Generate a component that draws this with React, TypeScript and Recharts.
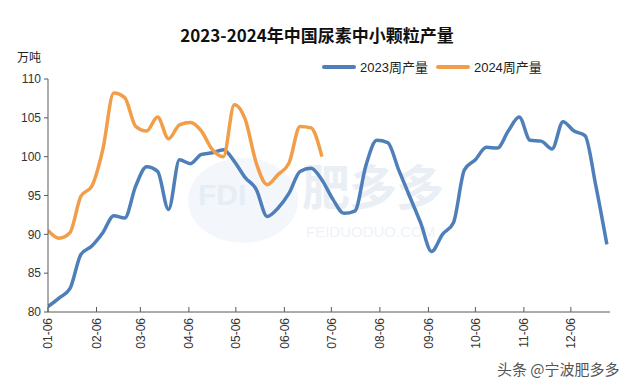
import { Line, LineChart, XAxis, YAxis } from 'recharts';

// 2023 周五日期（周度数据）
const WEEKS = [
  '01-06', '01-13', '01-20', '01-27', '02-03', '02-10', '02-17', '02-24',
  '03-03', '03-10', '03-17', '03-24', '03-31', '04-07', '04-14', '04-21',
  '04-28', '05-05', '05-12', '05-19', '05-26', '06-02', '06-09', '06-16',
  '06-23', '06-30', '07-07', '07-14', '07-21', '07-28', '08-04', '08-11',
  '08-18', '08-25', '09-01', '09-08', '09-15', '09-22', '09-29', '10-06',
  '10-13', '10-20', '10-27', '11-03', '11-10', '11-17', '11-24', '12-01',
  '12-08', '12-15', '12-22', '12-29',
];

const OUTPUT_2023 = [
  80.7, 81.8, 83.0, 87.4, 88.5, 90.2, 92.4, 92.1, 96.2, 98.7, 98.1, 93.2,
  99.6, 99.1, 100.3, 100.5, 100.9, 99.4, 97.3, 95.8, 92.3, 93.4, 95.3, 98.1,
  98.5, 97.0, 94.5, 92.7, 93.0, 98.8, 102.1, 101.8, 98.3, 94.9, 91.5, 87.8,
  90.0, 91.5, 98.3, 99.6, 101.2, 101.1, 103.3, 105.1, 102.1, 102.0, 101.0, 104.5,
  103.3, 102.7, 96.2, 88.7,
];

const OUTPUT_2024 = [
  90.5, 89.5, 90.2, 94.9, 96.2, 100.9, 108.2, 107.6, 103.9, 103.3, 105.1, 102.3,
  104.1, 104.4, 103.3, 100.9, 100.0, 106.7, 104.8, 99.2, 96.4, 97.7, 99.2, 103.9,
  103.7, 100.0,
];

const TICK_LABELS = [
  '01-06', '02-06', '03-06', '04-06', '05-06', '06-06',
  '07-06', '08-06', '09-06', '10-06', '11-06', '12-06',
];

const Y_TICKS = [80, 85, 90, 95, 100, 105, 110];

const MONTH_START = [0, 31, 59, 90, 120, 151, 181, 212, 243, 273, 304, 334];
const toDay = (md: string) => {
  const [m, d] = md.split('-').map(Number);
  return MONTH_START[m - 1] + d - 1;
};

const data = WEEKS.map((w, i) => ({
  day: toDay(w),
  y2023: OUTPUT_2023[i],
  y2024: OUTPUT_2024[i],
}));

const BLUE = '#4e7fb9';
const ORANGE = '#f29d48';
const FONT = 'Arial, "Liberation Sans", "Noto Sans CJK SC", sans-serif';
const CJK = '"Noto Sans CJK SC", sans-serif';

const XTick = (props: any) => {
  const { x, y, payload } = props;
  const label = TICK_LABELS.find((t) => toDay(t) === payload.value) ?? '';
  return (
    <g>
      <line x1={x} y1={y} x2={x} y2={y - 5} stroke='#595959' strokeWidth={1} />
      <g transform={`translate(${x},${y + 6}) rotate(-90)`}>
        <text textAnchor='end' dy='0.36em' fontSize={12} fill='#333' fontFamily={FONT}>
          {label}
        </text>
      </g>
    </g>
  );
};

export default function App() {
  return (
    <div style={{ position: 'fixed', left: 0, top: 0, width: 640, height: 392, background: '#fff', overflow: 'hidden' }}>
      {/* 水印 */}
      <div style={{ position: 'absolute', left: 188, top: 158, width: 110, height: 85, borderRadius: '50%', background: '#f3f7fb' }} />
      <div style={{ position: 'absolute', left: 198, top: 180, lineHeight: 1, fontFamily: FONT, fontWeight: 700, fontSize: 30, color: '#e6edf4' }}>FDI</div>
      <div style={{ position: 'absolute', left: 302, top: 160, lineHeight: 1, fontFamily: CJK, fontWeight: 700, fontSize: 48, color: '#eaeff5', letterSpacing: -1 }}>肥多多</div>
      <div style={{ position: 'absolute', left: 306, top: 224, lineHeight: 1, fontFamily: FONT, fontSize: 15, color: '#eef2f7' }}>FEIDUODUO.COM</div>

      <div style={{ position: 'absolute', left: 0, top: 22, width: 634, textAlign: 'center', fontFamily: CJK, fontWeight: 700, fontSize: 17, color: '#111' }}>
        2023-2024年中国尿素中小颗粒产量
      </div>
      <div style={{ position: 'absolute', left: 17, top: 48, fontFamily: CJK, fontSize: 12, color: '#222' }}>万吨</div>

      {/* 图例 */}
      <div style={{ position: 'absolute', left: 322, top: 57, display: 'flex', alignItems: 'center', fontFamily: FONT, fontSize: 13, color: '#222' }}>
        <span style={{ width: 34, height: 4, background: BLUE, borderRadius: 2, marginRight: 4 }} />
        <span style={{ marginRight: 8 }}>2023周产量</span>
        <span style={{ width: 34, height: 4, background: ORANGE, borderRadius: 2, marginRight: 4 }} />
        <span>2024周产量</span>
      </div>

      <div style={{ position: 'absolute', left: 0, top: 0 }}>
        <LineChart width={640} height={392} data={data} margin={{ top: 79, right: 30, bottom: 50, left: 8 }}>
          <XAxis
            dataKey='day'
            type='number'
            domain={[5, 364]}
            ticks={TICK_LABELS.map(toDay)}
            tick={<XTick />}
            tickLine={false}
            tickSize={0}
            tickMargin={0}
            height={30}
            axisLine={{ stroke: '#595959' }}
            allowDataOverflow
            interval={0}
          />
          <YAxis
            domain={[80, 110]}
            ticks={Y_TICKS}
            width={40}
            tickSize={4}
            tickMargin={3}
            tickLine={{ stroke: '#595959' }}
            axisLine={{ stroke: '#595959' }}
            tick={{ fontSize: 12, fill: '#333', fontFamily: FONT }}
            interval={0}
          />
          <Line type='monotone' dataKey='y2023' name='2023周产量' stroke={BLUE} strokeWidth={3.5} dot={false} isAnimationActive={false} />
          <Line type='monotone' dataKey='y2024' name='2024周产量' stroke={ORANGE} strokeWidth={3.5} dot={false} isAnimationActive={false} />
        </LineChart>
      </div>

      <div style={{ position: 'absolute', left: 497, top: 358, fontFamily: CJK, fontSize: 15, color: '#555' }}>
        头条 @宁波肥多多
      </div>
    </div>
  );
}
